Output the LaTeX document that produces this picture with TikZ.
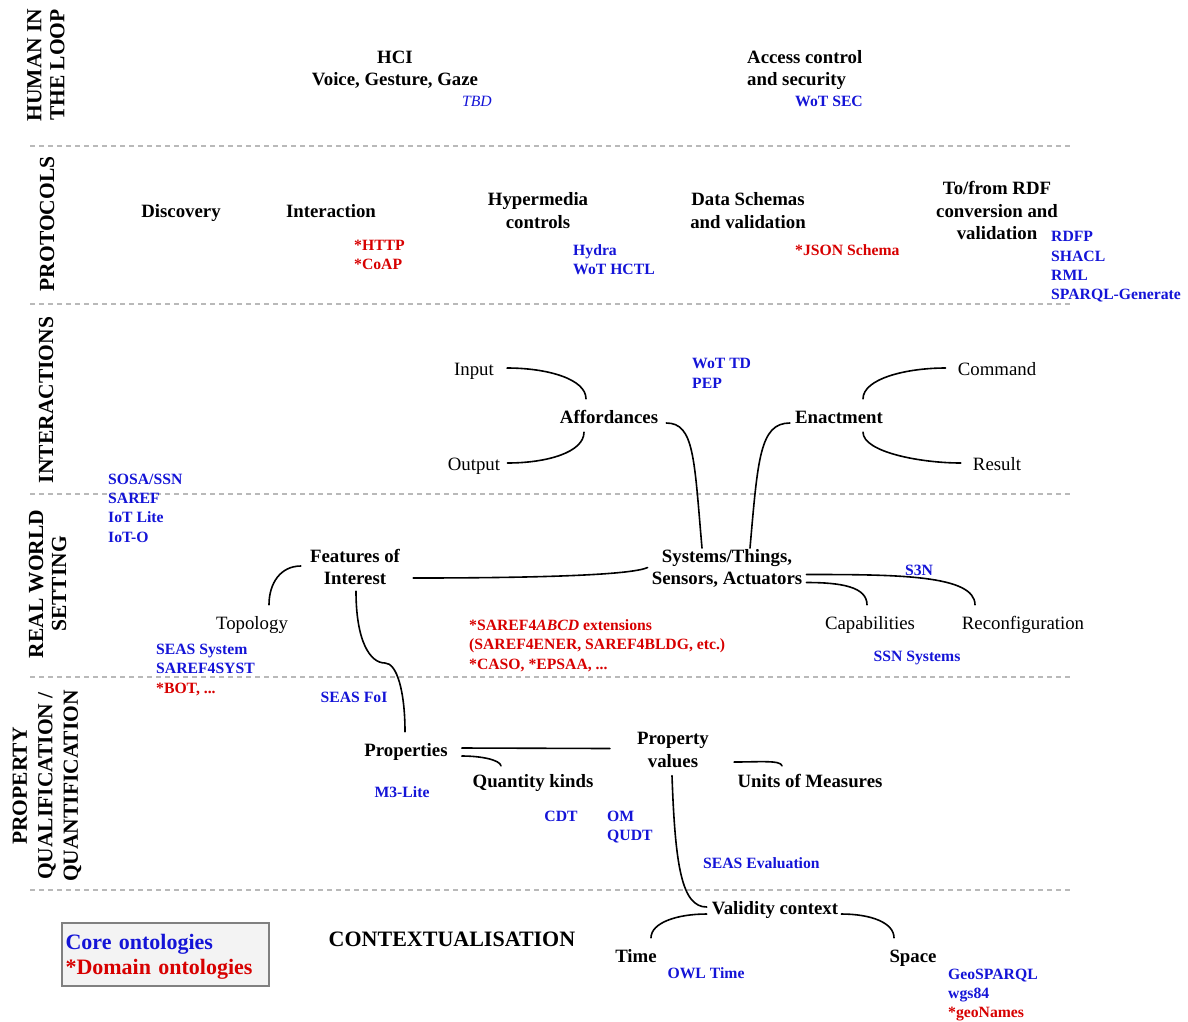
\documentclass[tikz,border=0pt]{standalone}
\usepackage{fontspec}
\setmainfont{Liberation Serif}
\usetikzlibrary{calc}
\definecolor{cblue}{RGB}{20,20,215}
\definecolor{cred}{RGB}{215,0,0}
\definecolor{sepgray}{RGB}{185,185,185}
\definecolor{legfill}{RGB}{243,243,243}
\definecolor{legdraw}{RGB}{128,128,128}
\begin{document}
\begin{tikzpicture}[x=1pt,y=1pt,
  main/.style={font=\fontsize{18.8}{22.5}\selectfont\bfseries, align=center, inner sep=0pt},
  one/.style={main, text height=12.8pt, text depth=4.1pt},
  reg/.style={font=\fontsize{18.8}{22}\selectfont, inner sep=0pt, text height=12.8pt, text depth=4.1pt},
  onto/.style={font=\fontsize{15.7}{19.3}\selectfont\bfseries, text=cblue, align=left, inner sep=0pt, anchor=west},
  dom/.style={onto, text=cred},
  side/.style={font=\fontsize{21.5}{23}\selectfont\bfseries, align=center, inner sep=0pt, rotate=90},
  link/.style={line width=1.6pt, line cap=round},
  sepline/.style={sepgray, line width=1.4pt, dash pattern=on 5pt off 4pt}]
\useasboundingbox (0,0) rectangle (1188,-1021);

% separators
\foreach \yy in {146,304,494,677,890}{\draw[sepline] (30,-\yy) -- (1070,-\yy);}

% side labels
\node[side] (sHuman) at (46,-65) {HUMAN IN\\THE LOOP};
\node[side] (sProto) at (47,-224) {PROTOCOLS};
\node[side] (sInter) at (46,-400) {INTERACTIONS};
\node[side] (sReal) at (47.5,-584) {REAL WORLD\\SETTING};
\node[side, font=\fontsize{21.5}{25.5}\selectfont\bfseries] (sProp) at (47,-786) {PROPERTY\\QUALIFICATION /\\QUANTIFICATION};

% human in the loop
\node[main] (hci) at (395,-69.5) {HCI\\Voice, Gesture, Gaze};
\node[font=\fontsize{15.7}{19}\selectfont\itshape, text=cblue, inner sep=0pt] (tbd) at (477,-101) {TBD};
\node[main, align=left, anchor=west] (access) at (747,-70) {Access control\\and security};
\node[onto] (wotsec) at (795,-101) {WoT SEC};

% protocols
\node[one] (disc) at (181,-213) {Discovery};
\node[one] (inter) at (331,-213) {Interaction};
\node[main] (hyper) at (538,-210.5) {Hypermedia\\controls};
\node[main] (schemas) at (748,-210.5) {Data Schemas\\and validation};
\node[main] (rdf) at (997,-210.5) {To/from RDF\\conversion and\\validation};
\node[dom] (http) at (354,-255) {*HTTP\\*CoAP};
\node[onto] (hydra) at (573,-259.5) {Hydra\\WoT HCTL};
\node[dom] (json) at (795,-250) {*JSON Schema};
\node[onto] (rdfp) at (1051,-267) {RDFP\\SHACL\\RML\\SPARQL-Generate};

% interactions
\node[reg] (inp) at (474,-371) {Input};
\node[reg] (outp) at (474,-466) {Output};
\node[one] (aff) at (609,-419) {Affordances};
\node[onto] (wottd) at (692,-373.5) {WoT TD\\PEP};
\node[one] (enact) at (839,-419) {Enactment};
\node[reg] (cmd) at (997,-371) {Command};
\node[reg] (res) at (997,-466) {Result};

% real world setting
\node[onto] (sosa) at (108,-508) {SOSA/SSN\\SAREF\\IoT Lite\\IoT-O};
\node[main] (feat) at (355,-567) {Features of\\Interest};
\node[reg] (topo) at (252,-625) {Topology};
\node[main] (sys) at (727,-568.5) {Systems/Things,\\Sensors, Actuators};
\node[reg] (cap) at (870,-625) {Capabilities};
\node[reg] (recon) at (1023,-625) {Reconfiguration};
\node[onto, anchor=center] (s3n) at (919,-570) {S3N};
\node[onto, anchor=center] (ssnsys) at (917,-658) {SSN Systems};
\node[dom] (saref4) at (469,-645.5) {*SAREF4\textit{ABCD} extensions\\(SAREF4ENER, SAREF4BLDG, etc.)\\*CASO, *EPSAA, ...};
\node[onto] (seassys) at (156,-670) {SEAS System\\SAREF4SYST\\\textcolor{cred}{*BOT, ...}};
\node[onto, anchor=center] (seasfoi) at (354,-697) {SEAS FoI};

% property qualification / quantification
\node[one] (props) at (406,-752) {Properties};
\node[onto, anchor=center] (m3) at (402,-792) {M3-Lite};
\node[one] (qk) at (533,-783) {Quantity kinds};
\node[main] (pv) at (673,-750) {Property\\values};
\node[one] (units) at (810,-783) {Units of Measures};
\node[onto, anchor=center] (cdt) at (561,-816) {CDT};
\node[onto] (om) at (607,-827) {OM\\QUDT};
\node[onto] (seaseval) at (703,-863) {SEAS Evaluation};

% contextualisation
\node[font=\fontsize{22}{26}\selectfont\bfseries, inner sep=0pt] (ctx) at (452,-939) {CONTEXTUALISATION};
\node[one] (val) at (775,-910) {Validity context};
\node[one] (time) at (636,-958) {Time};
\node[onto, anchor=center] (owltime) at (706,-973) {OWL Time};
\node[one] (space) at (913,-958) {Space};
\node[onto] (geo) at (948,-995) {GeoSPARQL\\wgs84\\\textcolor{cred}{*geoNames}};

% legend
\node[draw=legdraw, fill=legfill, line width=1.8pt, minimum width=207pt, minimum height=63pt,
      inner xsep=3pt, text width=200pt, align=left,
      font=\fontsize{22}{25}\selectfont\bfseries] (legend) at (165.5,-954.5)
      {\rule{0pt}{19.2pt}\textcolor{cblue}{Core ontologies}\\\textcolor{cred}{*Domain ontologies}};

% connectors: interactions
\draw[link] ([xshift=13pt,yshift=3pt]inp.east) to[out=0,in=90,out distance=40pt,in distance=20pt] ([xshift=-23pt,yshift=11.5pt]aff.north);
\draw[link] ([xshift=7pt,yshift=3pt]outp.east) to[out=0,in=270,out distance=40pt,in distance=20pt] ([xshift=-25pt,yshift=-4.5pt]aff.south);
\draw[link] ([xshift=8pt,yshift=-4pt]aff.east) to[out=0,in=95,out distance=28pt,in distance=90pt] ([xshift=-25pt,yshift=1pt]sys.north);
\draw[link] ([xshift=-5pt,yshift=-4pt]enact.west) to[out=180,in=85,out distance=30pt,in distance=90pt] ([xshift=23pt,yshift=1pt]sys.north);
\draw[link] ([xshift=24pt,yshift=11.5pt]enact.north) to[out=90,in=180,out distance=20pt,in distance=40pt] ([xshift=-12pt,yshift=3pt]cmd.west);
\draw[link] ([xshift=24pt,yshift=-4.5pt]enact.south) to[out=270,in=180,out distance=20pt,in distance=40pt] ([xshift=-12pt,yshift=3pt]res.west);

% connectors: real world
\draw[link] ([xshift=-9pt,yshift=1pt]feat.west) to[out=180,in=90,out distance=20pt,in distance=22pt] ([xshift=17pt,yshift=11.5pt]topo.north);
\draw[link] ([xshift=13pt,yshift=-11pt]feat.east) to[out=0,in=205,out distance=150pt,in distance=15pt] ([xshift=-4pt,yshift=1pt]sys.west);
\draw[link] ([xshift=4pt,yshift=-6pt]sys.east) to[out=0,in=90,out distance=90pt,in distance=30pt] ([xshift=-48pt,yshift=11.5pt]recon.north);
\draw[link] ([xshift=4pt,yshift=-14pt]sys.east) to[out=0,in=90,out distance=35pt,in distance=18pt] ([xshift=-3pt,yshift=11.5pt]cap.north);
\draw[link] ([xshift=1pt,yshift=-6pt]feat.south) to[out=270,in=180,out distance=50pt,in distance=15pt] (385,-663) to[out=0,in=90,out distance=12pt,in distance=40pt] ([xshift=-1pt,yshift=11.5pt]props.north);

% connectors: property
\draw[link] ([xshift=14pt,yshift=4pt]props.east) -- ([xshift=-27pt,yshift=1.5pt]pv.west);
\draw[link] ([xshift=14pt,yshift=-4pt]props.east) to[out=0,in=100,out distance=20pt,in distance=6pt] ([xshift=-32pt,yshift=8.5pt]qk.north);
\draw[link] ([xshift=25pt,yshift=-12pt]pv.east) to[out=0,in=100,out distance=25pt,in distance=6pt] ([xshift=-28pt,yshift=8.5pt]units.north);
\draw[link] ([xshift=-1pt,yshift=-8pt]pv.south) to[out=272,in=180,out distance=90pt,in distance=25pt] ([xshift=-5pt,yshift=3pt]val.west);

% connectors: contextualisation
\draw[link] ([xshift=-5pt,yshift=-4pt]val.west) to[out=180,in=90,out distance=30pt,in distance=15pt] ([xshift=15pt,yshift=11.5pt]time.north);
\draw[link] ([xshift=3pt,yshift=-4pt]val.east) to[out=0,in=90,out distance=30pt,in distance=15pt] ([xshift=-19pt,yshift=11.5pt]space.north);
\end{tikzpicture}
\end{document}
